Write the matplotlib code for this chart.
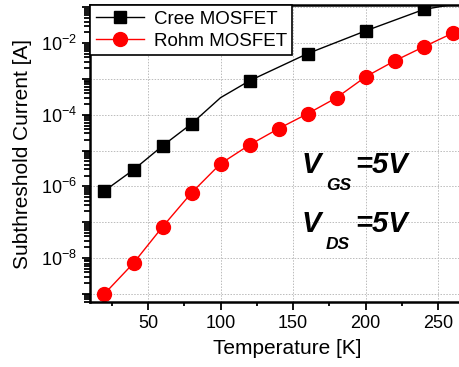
import numpy as np
import matplotlib
matplotlib.use("Agg")
from matplotlib import pyplot as plt
from matplotlib.ticker import FixedLocator, FuncFormatter, LogLocator, NullFormatter

plt.rcParams['font.family'] = ['Liberation Sans', 'DejaVu Sans']
plt.rcParams['mathtext.fontset'] = 'custom'
plt.rcParams['mathtext.rm'] = 'Liberation Sans'
plt.rcParams['mathtext.it'] = 'Liberation Sans:italic'

# data
temp_cree = [20, 40, 60, 80, 100, 120, 160, 200, 240, 260]
cree = [7.5e-7, 2.9e-6, 1.35e-5, 5.6e-5, 3.0e-4, 8.9e-4, 5.1e-3, 2.2e-2, 8.7e-2, 0.12]
cree_marked = [0, 1, 2, 3, 5, 6, 7, 8]

temp_rohm = [20, 40, 60, 80, 100, 120, 140, 160, 180, 200, 220, 240, 260]
rohm = [1.0e-9, 7.2e-9, 7.4e-8, 6.6e-7, 4.3e-6, 1.44e-5, 4.1e-5, 1.07e-4,
        3.0e-4, 1.15e-3, 3.2e-3, 7.9e-3, 1.9e-2]

x_ticks = [50, 100, 150, 200, 250]

fig = plt.figure(figsize=(4.59, 3.67), dpi=100)
ax = fig.add_axes([0.196, 0.177, 0.86, 0.809])

ax.plot(temp_cree, cree, color='black', lw=1, marker='s', ms=8,
        markevery=cree_marked, label='Cree MOSFET')
ax.plot(temp_rohm, rohm, color='red', lw=1, marker='o', ms=10,
        label='Rohm MOSFET')

ax.set_yscale('log')
ax.set_xlim(10, 282)
ax.set_ylim(10**-9.23, 10**-0.94)

ax.set_xticks(x_ticks)
ax.xaxis.set_minor_locator(FixedLocator([25, 75, 125, 175, 225, 275]))
ax.yaxis.set_major_locator(FixedLocator([10.0**k for k in range(-9, 0)]))
ax.yaxis.set_major_formatter(FuncFormatter(
    lambda v, p: r'$10^{%d}$' % round(np.log10(v)) if round(np.log10(v)) % 2 == 0 else ''))
ax.yaxis.set_minor_locator(LogLocator(base=10, subs=np.arange(2, 10), numticks=20))
ax.yaxis.set_minor_formatter(NullFormatter())

ax.tick_params(which='both', direction='out', labelsize=13, width=1.3)
ax.tick_params(which='major', length=6)
ax.tick_params(which='minor', length=3)
ax.tick_params(axis='y', which='minor', length=4)

for s in ax.spines.values():
    s.set_linewidth(1.8)

ax.grid(True, which='major', color='#bbbbbb', linestyle=(0, (1.5, 1.5)), lw=0.7)

ax.set_xlabel('Temperature [K]', fontsize=15, labelpad=5)
ax.set_ylabel('Subthreshold Current [A]', fontsize=15, labelpad=6)

leg = ax.legend(loc='upper left', borderaxespad=0, fancybox=False, fontsize=13.5,
                edgecolor='black', framealpha=1, handlelength=2.6,
                borderpad=0.3, labelspacing=0.25, handletextpad=0.5)
leg.get_frame().set_linewidth(1.2)

# V_GS / V_DS annotation
W, H = 459, 367
for base, sub in [(173, 'GS'), (232, 'DS')]:
    fig.text(302 / W, 1 - base / H, 'V', fontsize=21, fontweight='bold',
             style='italic', va='baseline')
    fig.text(326 / W, 1 - (base + 17) / H, sub, fontsize=12.5, fontweight='bold',
             style='italic', va='baseline')
    fig.text(355 / W, 1 - base / H, '=5V', fontsize=21, fontweight='bold',
             style='italic', va='baseline')

fig.savefig('out.png', dpi=100)
